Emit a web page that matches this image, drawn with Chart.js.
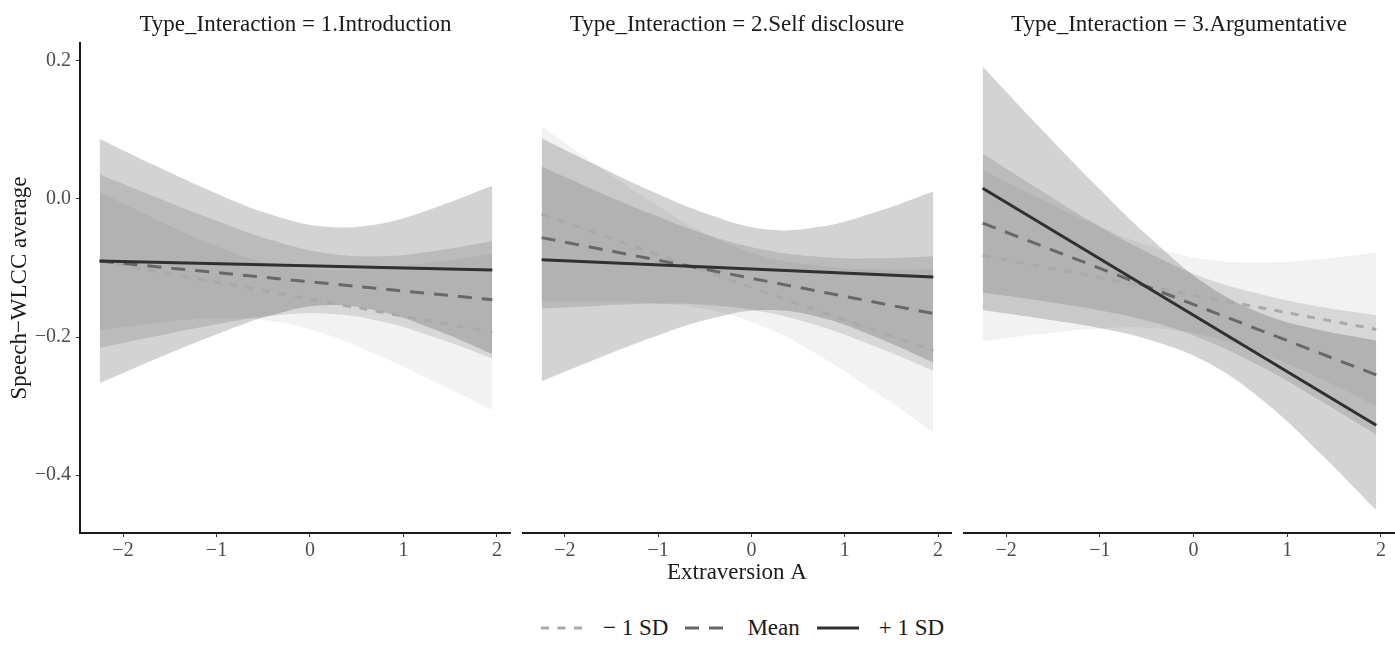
<!DOCTYPE html>
<html>
<head>
<meta charset="utf-8">
<script src="https://cdn.jsdelivr.net/npm/chart.js@4.4.1/dist/chart.umd.min.js"></script>
<style>
  html, body { margin: 0; padding: 0; background: #fff; }
  #wrap { position: relative; width: 1395px; height: 651px; overflow: hidden; font-family: 'Liberation Serif', 'Times New Roman', serif; }
  canvas { position: absolute; top: 0; }
  #legend { position: absolute; left: 541px; top: 614px; height: 28px; display: flex; align-items: center; font-size: 23px; color: #1a1a1a; white-space: nowrap; }
  #legend svg { margin-right: 20px; display: block; }
  #legend span { margin-right: 17px; line-height: 28px; }
</style>
</head>
<body>
<div id="wrap">
  <canvas id="p1" width="511" height="600" style="left:0px"></canvas>
  <canvas id="p2" width="430" height="600" style="left:522px"></canvas>
  <canvas id="p3" width="432" height="600" style="left:963px"></canvas>
  <div id="legend"></div>
</div>
<script>
const panelTitles = ['Type_Interaction = 1.Introduction', 'Type_Interaction = 2.Self disclosure', 'Type_Interaction = 3.Argumentative'];
const seriesNames = ['− 1 SD', 'Mean', '+ 1 SD'];
const xEnds = [-2.25, 1.95];
const xGrid = [-2.25, -1.65, -1.05, -0.45, 0.15, 0.75, 1.35, 1.95];
const xTickValues = [-2, -1, 0, 1, 2];
const yTickValues = [-0.4, -0.2, 0, 0.2];

// 1.Introduction
const introLowLine = [-0.090, -0.193];
const introMeanLine = [-0.090, -0.146];
const introHighLine = [-0.090, -0.103];
const introLowUpper = [0.010, -0.029, -0.066, -0.093, -0.103, -0.100, -0.091, -0.080];
const introLowLower = [-0.190, -0.180, -0.173, -0.176, -0.195, -0.228, -0.266, -0.306];
const introMeanUpper = [0.036, 0.003, -0.029, -0.058, -0.078, -0.083, -0.075, -0.061];
const introMeanLower = [-0.216, -0.199, -0.183, -0.170, -0.166, -0.177, -0.201, -0.231];
const introHighUpper = [0.087, 0.048, 0.011, -0.021, -0.040, -0.036, -0.012, 0.019];
const introHighLower = [-0.267, -0.232, -0.199, -0.170, -0.154, -0.163, -0.190, -0.225];

// 2.Self disclosure
const selfLowLine = [-0.022, -0.220];
const selfMeanLine = [-0.056, -0.166];
const selfHighLine = [-0.088, -0.113];
const selfLowUpper = [0.105, 0.048, -0.006, -0.053, -0.084, -0.097, -0.102, -0.102];
const selfLowLower = [-0.149, -0.149, -0.151, -0.161, -0.186, -0.229, -0.282, -0.338];
const selfMeanUpper = [0.047, 0.011, -0.023, -0.053, -0.074, -0.084, -0.086, -0.083];
const selfMeanLower = [-0.159, -0.155, -0.152, -0.154, -0.164, -0.185, -0.215, -0.249];
const selfHighUpper = [0.088, 0.048, 0.010, -0.023, -0.044, -0.040, -0.018, 0.011];
const selfHighLower = [-0.264, -0.231, -0.200, -0.174, -0.161, -0.172, -0.201, -0.237];

// 3.Argumentative
const argLowLine = [-0.082, -0.189];
const argMeanLine = [-0.035, -0.255];
const argHighLine = [0.0155, -0.328];
const argLowUpper = [0.042, 0.001, -0.037, -0.069, -0.088, -0.092, -0.087, -0.078];
const argLowLower = [-0.206, -0.196, -0.188, -0.187, -0.199, -0.225, -0.260, -0.300];
const argMeanUpper = [0.066, 0.014, -0.036, -0.080, -0.116, -0.139, -0.156, -0.168];
const argMeanLower = [-0.136, -0.147, -0.160, -0.178, -0.206, -0.245, -0.292, -0.342];
const argHighUpper = [0.192, 0.105, 0.021, -0.058, -0.125, -0.167, -0.190, -0.205];
const argHighLower = [-0.161, -0.173, -0.186, -0.205, -0.237, -0.293, -0.368, -0.451];

const panels = [
  { lines: [introLowLine, introMeanLine, introHighLine],
    bands: [[introLowUpper, introLowLower], [introMeanUpper, introMeanLower], [introHighUpper, introHighLower]] },
  { lines: [selfLowLine, selfMeanLine, selfHighLine],
    bands: [[selfLowUpper, selfLowLower], [selfMeanUpper, selfMeanLower], [selfHighUpper, selfHighLower]] },
  { lines: [argLowLine, argMeanLine, argHighLine],
    bands: [[argLowUpper, argLowLower], [argMeanUpper, argMeanLower], [argHighUpper, argHighLower]] }
];

const seriesStyle = [
  { color: '#a9a9a9', dash: [8, 8.5], band: 'rgba(0,0,0,0.05)', order: 3 },
  { color: '#686868', dash: [14, 10], band: 'rgba(0,0,0,0.115)', order: 2 },
  { color: '#303030', dash: [], band: 'rgba(0,0,0,0.172)', order: 1 }
];

const serif = "'Liberation Serif', 'Times New Roman', serif";
const fmt = (v, dec) => (v < -1e-9 ? '−' : '') + Math.abs(v).toFixed(dec);

function buildDatasets(panel) {
  const ds = [];
  panel.bands.forEach(([up, lo], k) => {
    const idx = ds.length;
    ds.push({
      label: seriesNames[k] + ' upper',
      data: xGrid.map((x, i) => ({ x: x, y: up[i] })),
      fill: idx + 1,
      backgroundColor: seriesStyle[k].band,
      borderColor: 'transparent',
      borderWidth: 0,
      pointRadius: 0,
      tension: 0.4,
      order: 10
    });
    ds.push({
      label: seriesNames[k] + ' lower',
      data: xGrid.map((x, i) => ({ x: x, y: lo[i] })),
      fill: false,
      borderColor: 'transparent',
      borderWidth: 0,
      pointRadius: 0,
      tension: 0.4,
      order: 10
    });
  });
  panel.lines.forEach((l, k) => {
    ds.push({
      label: seriesNames[k],
      data: xEnds.map((x, i) => ({ x: x, y: l[i] })),
      fill: false,
      borderColor: seriesStyle[k].color,
      borderDash: seriesStyle[k].dash,
      borderWidth: 3,
      pointRadius: 0,
      order: seriesStyle[k].order
    });
  });
  return ds;
}

['p1', 'p2', 'p3'].forEach((id, p) => {
  new Chart(document.getElementById(id).getContext('2d'), {
    type: 'line',
    data: { datasets: buildDatasets(panels[p]) },
    options: {
      responsive: false,
      animation: false,
      events: [],
      layout: { padding: 0 },
      plugins: {
        legend: { display: false },
        tooltip: { enabled: false },
        filler: { drawTime: 'beforeDatasetsDraw' },
        title: {
          display: true,
          text: panelTitles[p],
          fullSize: false,
          color: '#1a1a1a',
          font: { family: serif, size: 23, weight: 'normal', lineHeight: 1.2 },
          padding: { top: 11, bottom: 4.4 }
        }
      },
      scales: {
        x: {
          type: 'linear',
          min: -2.46,
          max: 2.15,
          afterBuildTicks: s => { s.ticks = xTickValues.map(v => ({ value: v })); },
          afterFit: s => { s.height = 67; },
          grid: { drawOnChartArea: false, drawTicks: true, tickLength: 4, tickColor: '#333', tickWidth: 1 },
          border: { display: true, color: '#1a1a1a', width: 2 },
          ticks: { padding: 2, color: '#4d4d4d', autoSkip: false, maxRotation: 0,
                   font: { family: serif, size: 20 }, callback: v => fmt(v, 0) },
          title: { display: p === 1, text: 'Extraversion A', color: '#1a1a1a',
                   font: { family: serif, size: 23, lineHeight: 1.2 }, padding: { top: 0, bottom: 13 } }
        },
        y: {
          type: 'linear',
          display: p === 0,
          min: -0.484,
          max: 0.226,
          afterBuildTicks: s => { s.ticks = yTickValues.map(v => ({ value: v })); },
          afterFit: s => { s.width = p === 0 ? 80 : 0; },
          grid: { drawOnChartArea: false, drawTicks: true, tickLength: 4, tickColor: '#333', tickWidth: 1 },
          border: { display: true, color: '#1a1a1a', width: 2 },
          ticks: { padding: 5, color: '#4d4d4d', font: { family: serif, size: 20 }, callback: v => fmt(v, 1) },
          title: { display: true, text: 'Speech−WLCC average', color: '#1a1a1a',
                   font: { family: serif, size: 23, lineHeight: 1.2 }, padding: { top: 6, bottom: 0 } }
        }
      }
    }
  });
});

// legend below the panels
const legend = document.getElementById('legend');
seriesNames.forEach((name, k) => {
  const st = seriesStyle[k];
  const svg = document.createElementNS('http://www.w3.org/2000/svg', 'svg');
  svg.setAttribute('width', '42');
  svg.setAttribute('height', '6');
  const ln = document.createElementNS('http://www.w3.org/2000/svg', 'line');
  ln.setAttribute('x1', '0'); ln.setAttribute('x2', '42');
  ln.setAttribute('y1', '3'); ln.setAttribute('y2', '3');
  ln.setAttribute('stroke', st.color);
  ln.setAttribute('stroke-width', '3');
  if (st.dash.length) ln.setAttribute('stroke-dasharray', st.dash.join(' '));
  svg.appendChild(ln);
  const span = document.createElement('span');
  span.textContent = name;
  legend.appendChild(svg);
  legend.appendChild(span);
});
</script>
</body>
</html>
